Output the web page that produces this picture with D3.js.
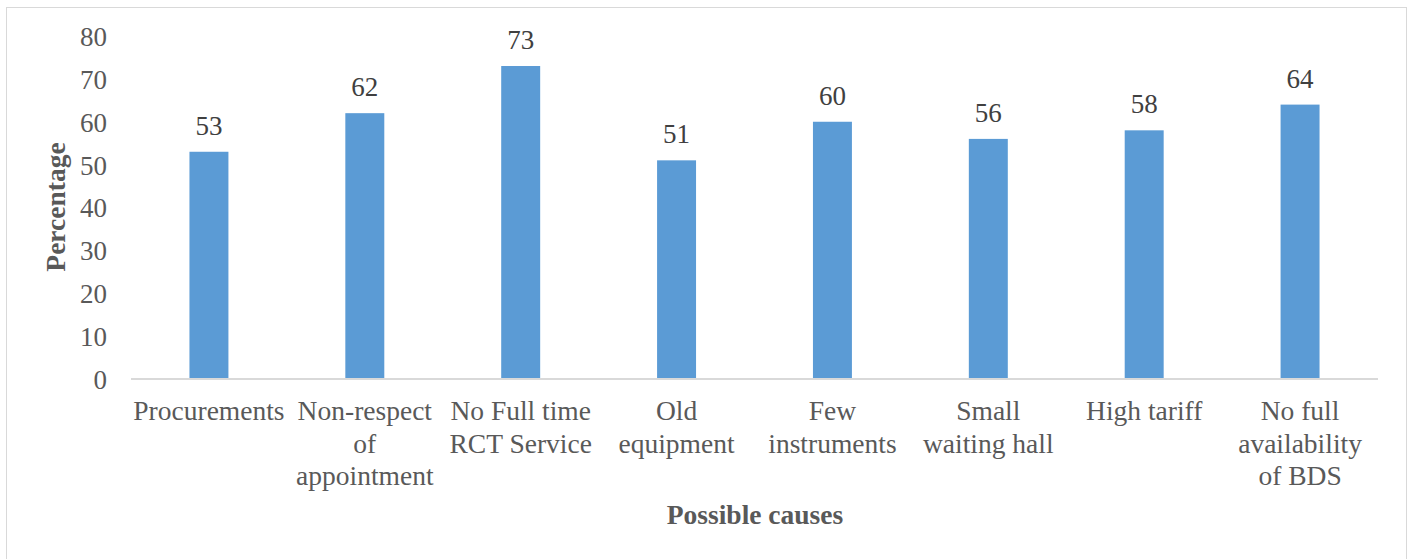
<!DOCTYPE html>
<html><head><meta charset="utf-8">
<script src="https://cdn.jsdelivr.net/npm/d3@7"></script>
<style>html,body{margin:0;padding:0;background:#fff;}</style>
</head><body>
<svg id="chart" width="1411" height="559"></svg>
<script>
const categories = ["Procurements", "Non-respect\nof\nappointment", "No Full time\nRCT Service", "Old\nequipment", "Few\ninstruments", "Small\nwaiting hall", "High tariff", "No full\navailability\nof BDS"];
const values = [53, 62, 73, 51, 60, 56, 58, 64];
const yTicks = [0, 10, 20, 30, 40, 50, 60, 70, 80];
const yTitle = "Percentage";
const xTitle = "Possible causes";

const svg = d3.select("#chart");
const font = "'Liberation Serif','Times New Roman',serif";
const plotLeft = 131, plotRight = 1378, plotTop = 36, plotBottom = 379;

svg.append("rect").attr("x", 6.5).attr("y", 7.5).attr("width", 1400).attr("height", 560)
  .attr("fill", "#fff").attr("stroke", "#d9d9d9").attr("stroke-width", 1);

const x = d3.scaleBand().domain(categories).range([plotLeft, plotRight]).paddingInner(0.75).paddingOuter(0.375);
const y = d3.scaleLinear().domain([0, 80]).range([plotBottom, plotTop]);

// y tick labels
const yAxis = d3.axisLeft(y).tickValues(yTicks).tickSize(0).tickPadding(0);
const gy = svg.append("g").attr("transform", `translate(107,0)`).call(yAxis);
gy.select(".domain").remove();
gy.selectAll("text").attr("font-family", font).attr("font-size", 27).attr("fill", "#595959").attr("dy", "0.35em");

// bars
svg.append("g").selectAll("rect").data(values).join("rect")
  .attr("x", (d, i) => x(categories[i]))
  .attr("y", d => y(d))
  .attr("width", x.bandwidth())
  .attr("height", d => y(0) - y(d))
  .attr("fill", "#5B9BD5");

// x axis line
const xAxis = d3.axisBottom(x).tickSize(0).tickFormat("");
const gx = svg.append("g").attr("transform", `translate(0,${plotBottom})`).call(xAxis);
gx.select(".domain").attr("stroke", "#d9d9d9").attr("stroke-width", 2).attr("d", `M${plotLeft},0H${plotRight}`);

// data labels
svg.append("g").selectAll("text").data(values).join("text")
  .attr("x", (d, i) => x(categories[i]) + x.bandwidth() / 2)
  .attr("y", d => y(d) - 17)
  .attr("text-anchor", "middle")
  .attr("font-family", font).attr("font-size", 27).attr("fill", "#404040")
  .text(d => d);

// category labels
const cl = svg.append("g").selectAll("text").data(categories).join("text")
  .attr("x", d => x(d) + x.bandwidth() / 2)
  .attr("y", 420)
  .attr("text-anchor", "middle")
  .attr("font-family", font).attr("font-size", 27.5).attr("fill", "#595959");
cl.each(function(d) {
  const t = d3.select(this);
  d.split("\n").forEach((line, i) => {
    t.append("tspan").attr("x", x(d) + x.bandwidth() / 2).attr("dy", i === 0 ? 0 : 32.5).text(line);
  });
});

// axis titles
svg.append("text").attr("transform", "translate(65,207) rotate(-90)")
  .attr("text-anchor", "middle").attr("font-family", font).attr("font-size", 27.5)
  .attr("font-weight", "bold").attr("fill", "#595959").text(yTitle);
svg.append("text").attr("x", 755).attr("y", 524)
  .attr("text-anchor", "middle").attr("font-family", font).attr("font-size", 27.5)
  .attr("font-weight", "bold").attr("fill", "#595959").text(xTitle);
</script>
</body></html>
